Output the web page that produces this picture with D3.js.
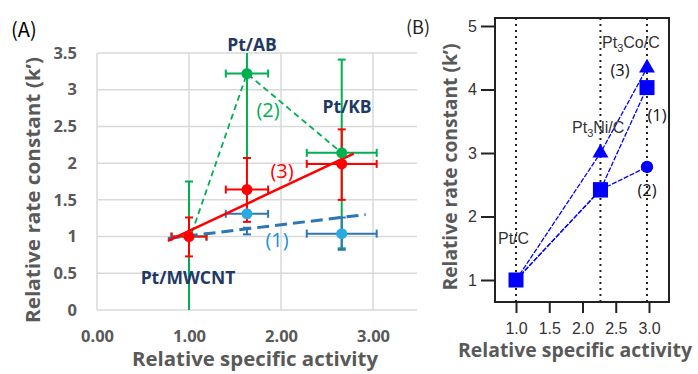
<!DOCTYPE html>
<html><head><meta charset="utf-8">
<script src="https://cdn.jsdelivr.net/npm/d3@7"></script>
<style>body{margin:0;background:#fff}svg{display:block}</style>
</head><body>
<svg id="c" width="698" height="374"></svg>
<script>
// ---------- Panel A data ----------
const catsA = ["Pt/MWCNT", "Pt/AB", "Pt/KB"];
const xA_vals = [1.00, 1.63, 2.66];
const xErrA = [0.19, 0.23, 0.38];
const greenY = [1.00, 3.22, 2.14];
const greenErrUp = [0.75, 1.15, 1.27];
const greenErrDown = [1.00, 1.15, 1.30];
const redY = [1.00, 1.64, 1.99];
const redErrUp = [0.26, 0.43, 0.47];
const redErrDown = [0.27, 0.44, 0.49];
const blueY = [1.00, 1.31, 1.04];
const blueBarLo = [null, 1.03, 0.82];
const blueBarHi = [null, 1.12, 1.26];
const redFit = [[0.77, 0.94], [2.79, 2.13]];
const blueFit = [[0.77, 0.975], [2.92, 1.30]];
const xTicksA = [0, 1, 2, 3];
const yTicksA = [0, 0.5, 1, 1.5, 2, 2.5, 3, 3.5];

// ---------- Panel B data ----------
const catsB = ["Pt/C", "Pt3Ni/C", "Pt3Co/C"];
const xB_vals = [1.0, 2.27, 2.97];
const s1 = [1.0, 2.42, 4.03];   // squares (1)
const s2 = [1.0, 2.42, 2.78];   // circles (2)
const s3 = [1.0, 3.00, 4.34];   // triangles (3)
const xTicksB = [1.0, 1.5, 2.0, 2.5, 3.0];
const yTicksB = [1, 2, 3, 4, 5];

const svg = d3.select("#c");
const GRID = "#d9d9d9", AX = "#595959";
const GREEN = "#00b050", RED = "#ff0000", LBLUE = "#29abe2", DBLUE = "#2e75b6", NAVY = "#1f3864";
const FA = "'Open Sans', sans-serif";

// ================= Panel A =================
const xA = d3.scaleLinear().domain([0, 3.5]).range([97, 419]);
const yA = d3.scaleLinear().domain([0, 3.5]).range([310, 53]);
const gA = svg.append("g");
svg.append("defs").append("clipPath").attr("id", "clipA")
  .append("rect").attr("x", 90).attr("y", 53).attr("width", 340).attr("height", 257);

gA.selectAll(".hg").data(yTicksA).join("line")
  .attr("x1", xA(0)).attr("x2", 417).attr("y1", d => yA(d)).attr("y2", d => yA(d))
  .attr("stroke", GRID).attr("stroke-width", 1.5);
gA.selectAll(".vg").data(xTicksA).join("line")
  .attr("x1", d => xA(d)).attr("x2", d => xA(d)).attr("y1", yA(0)).attr("y2", yA(3.5))
  .attr("stroke", GRID).attr("stroke-width", 1.5);

const axYA = d3.axisLeft(yA).tickValues(yTicksA).tickSize(0).tickPadding(20).tickFormat(d3.format("~g"));
const gyA = gA.append("g").attr("transform", `translate(${xA(0)},0)`).call(axYA);
gyA.select(".domain").remove();
gyA.selectAll("text").attr("fill", AX).attr("font-family", FA).attr("font-weight", "bold").attr("font-size", 16.5);
const axXA = d3.axisBottom(xA).tickValues(xTicksA).tickSize(0).tickPadding(20).tickFormat(d3.format(".2f"));
const gxA = gA.append("g").attr("transform", `translate(0,${yA(0)})`).call(axXA);
gxA.select(".domain").remove();
gxA.selectAll("text").attr("fill", AX).attr("font-family", FA).attr("font-weight", "bold").attr("font-size", 16.5);

gA.append("text").attr("x", 255).attr("y", 366).attr("text-anchor", "middle")
  .attr("fill", AX).attr("font-family", FA).attr("font-weight", "bold").attr("font-size", 19.5)
  .attr("textLength", 246).attr("lengthAdjust", "spacingAndGlyphs")
  .text("Relative specific activity");
gA.append("text").attr("transform", "translate(40,190) rotate(-90)").attr("text-anchor", "middle")
  .attr("fill", AX).attr("font-family", FA).attr("font-weight", "bold").attr("font-size", 19.5)
  .attr("textLength", 266).attr("lengthAdjust", "spacingAndGlyphs")
  .text("Relative rate constant (k\u2019)");
gA.append("text").attr("x", 11).attr("y", 37).attr("fill", "#000")
  .attr("font-family", "'Noto Sans CJK JP', sans-serif").attr("font-size", 20).text("(A)");

const pA = gA.append("g").attr("clip-path", "url(#clipA)");
function errBars(g, ys, up, down, color, cap) {
  ys.forEach((y, i) => {
    const x = xA_vals[i];
    g.append("line").attr("x1", xA(x)).attr("x2", xA(x)).attr("y1", yA(y + up[i])).attr("y2", yA(y - down[i]))
      .attr("stroke", color).attr("stroke-width", 2);
    [y + up[i], y - down[i]].forEach(v => {
      if (v > 0 && v < 3.5) g.append("line").attr("x1", xA(x) - cap).attr("x2", xA(x) + cap)
        .attr("y1", yA(v)).attr("y2", yA(v)).attr("stroke", color).attr("stroke-width", 2);
    });
    g.append("line").attr("x1", xA(x - xErrA[i])).attr("x2", xA(x + xErrA[i])).attr("y1", yA(y)).attr("y2", yA(y))
      .attr("stroke", color).attr("stroke-width", 2);
    [x - xErrA[i], x + xErrA[i]].forEach(v => {
      g.append("line").attr("x1", xA(v)).attr("x2", xA(v)).attr("y1", yA(y) - cap).attr("y2", yA(y) + cap)
        .attr("stroke", color).attr("stroke-width", 2);
    });
  });
}
errBars(pA, greenY, greenErrUp, greenErrDown, GREEN, 4);
blueY.forEach((y, i) => {
  if (i === 0) return;
  const x = xA_vals[i];
  pA.append("line").attr("x1", xA(x - xErrA[i])).attr("x2", xA(x + xErrA[i])).attr("y1", yA(y)).attr("y2", yA(y))
    .attr("stroke", DBLUE).attr("stroke-width", 2);
  [x - xErrA[i], x + xErrA[i]].forEach(v => pA.append("line").attr("x1", xA(v)).attr("x2", xA(v))
    .attr("y1", yA(y) - 4).attr("y2", yA(y) + 4).attr("stroke", DBLUE).attr("stroke-width", 2));
  pA.append("line").attr("x1", xA(x)).attr("x2", xA(x)).attr("y1", yA(blueBarLo[i])).attr("y2", yA(blueBarHi[i]))
    .attr("stroke", DBLUE).attr("stroke-width", 2);
  [blueBarLo[i], blueBarHi[i]].forEach(v => pA.append("line").attr("x1", xA(x) - 4).attr("x2", xA(x) + 4)
    .attr("y1", yA(v)).attr("y2", yA(v)).attr("stroke", DBLUE).attr("stroke-width", 2));
});
errBars(pA, redY, redErrUp, redErrDown, RED, 4);

const lineA = d3.line().x(d => xA(d[0])).y(d => yA(d[1]));
pA.append("path").datum([[1.03, 1.05], [xA_vals[1], greenY[1]], [xA_vals[2], greenY[2]]]).attr("d", lineA)
  .attr("fill", "none").attr("stroke", GREEN).attr("stroke-width", 1.8).attr("stroke-dasharray", "6,4");
pA.append("path").datum(blueFit).attr("d", lineA)
  .attr("fill", "none").attr("stroke", DBLUE).attr("stroke-width", 3).attr("stroke-dasharray", "12,6");
pA.append("path").datum(redFit).attr("d", lineA)
  .attr("fill", "none").attr("stroke", RED).attr("stroke-width", 2.5);

pA.selectAll(".gp").data(greenY.slice(1)).join("circle")
  .attr("cx", (d, i) => xA(xA_vals[i + 1])).attr("cy", d => yA(d)).attr("r", 5.5).attr("fill", GREEN);
pA.selectAll(".bp").data(blueY.slice(1)).join("circle")
  .attr("cx", (d, i) => xA(xA_vals[i + 1])).attr("cy", d => yA(d)).attr("r", 5.5).attr("fill", LBLUE);
pA.selectAll(".rp").data(redY).join("circle")
  .attr("cx", (d, i) => xA(xA_vals[i])).attr("cy", d => yA(d)).attr("r", 5.5).attr("fill", RED);

const labA = [[catsA[1], 252, 51], [catsA[2], 347, 113], [catsA[0], 188, 284]];
labA.forEach(([t, x, y]) => gA.append("text").attr("x", x).attr("y", y).attr("text-anchor", "middle")
  .attr("fill", NAVY).attr("font-family", FA).attr("font-weight", "bold").attr("font-size", 17.5).text(t));
[["(2)", 268, 117, GREEN], ["(3)", 282, 178, RED], ["(1)", 277, 247, "#1f8fd6"]].forEach(([t, x, y, c]) =>
  gA.append("text").attr("x", x).attr("y", y).attr("text-anchor", "middle").attr("fill", c)
    .attr("font-family", "'Open Sans', sans-serif").attr("font-size", 20).text(t));

// ================= Panel B =================
const xB = d3.scaleLinear().domain([1.0, 3.0]).range([516, 649]);
const yB = d3.scaleLinear().domain([1, 5]).range([280, 26]);
const gB = svg.append("g");
const FB = "'Liberation Sans', Arial, sans-serif";
const L = 495, R = 669, T = 18, B = 302;

gB.selectAll(".dv").data(xB_vals).join("line")
  .attr("x1", d => xB(d)).attr("x2", d => xB(d)).attr("y1", T).attr("y2", B)
  .attr("stroke", "#222").attr("stroke-width", 2).attr("stroke-dasharray", "2,4");

gB.append("rect").attr("x", L).attr("y", T).attr("width", R - L).attr("height", B - T)
  .attr("fill", "none").attr("stroke", "#222").attr("stroke-width", 2);

const axYB = d3.axisLeft(yB).tickValues(yTicksB).tickSize(14).tickPadding(4).tickFormat(d3.format("d"));
const gyB = gB.append("g").attr("transform", `translate(${L},0)`).call(axYB);
gyB.select(".domain").remove();
gyB.selectAll("line").attr("stroke", "#222").attr("stroke-width", 2);
gyB.selectAll("text").attr("fill", "#333").attr("font-family", FB).attr("font-size", 16);
const axXB = d3.axisBottom(xB).tickValues(xTicksB).tickSize(11).tickPadding(10).tickFormat(d3.format(".1f"));
const gxB = gB.append("g").attr("transform", `translate(0,${B})`).call(axXB);
gxB.select(".domain").remove();
gxB.selectAll("line").attr("stroke", "#222").attr("stroke-width", 2);
gxB.selectAll("text").attr("fill", "#333").attr("font-family", FB).attr("font-size", 16);

gB.append("text").attr("x", 575).attr("y", 357).attr("text-anchor", "middle")
  .attr("fill", AX).attr("font-family", FA).attr("font-weight", "bold").attr("font-size", 19.5)
  .attr("textLength", 234).attr("lengthAdjust", "spacingAndGlyphs")
  .text("Relative specific activity");
gB.append("text").attr("transform", "translate(457,167) rotate(-90)").attr("text-anchor", "middle")
  .attr("fill", AX).attr("font-family", FA).attr("font-weight", "bold").attr("font-size", 19.5)
  .attr("textLength", 247).attr("lengthAdjust", "spacingAndGlyphs")
  .text("Relative rate constant (k\u2019)");
gB.append("text").attr("x", 406).attr("y", 34).attr("fill", "#222")
  .attr("font-family", "'Noto Sans CJK JP', sans-serif").attr("font-size", 18).text("(B)");

const lineB = d3.line().x((d, i) => xB(xB_vals[i])).y(d => yB(d));
const BLUE = "#0000ff";
[s1, s2, s3].forEach(s => gB.append("path").datum(s).attr("d", lineB).attr("fill", "none")
  .attr("stroke", BLUE).attr("stroke-width", 1.3).attr("stroke-dasharray", "5,1.5"));

gB.selectAll(".sq").data(s1).join("rect")
  .attr("x", (d, i) => xB(xB_vals[i]) - 7.5).attr("y", d => yB(d) - 7.5).attr("width", 15).attr("height", 15).attr("fill", BLUE);
gB.selectAll(".sq2").data(s2.slice(1)).join("path")
  .attr("d", (d, i) => i === 0
    ? `M${xB(xB_vals[1]) - 7.5},${yB(d) - 7.5}h15v15h-15z`
    : d3.symbol(d3.symbolCircle, 120)())
  .attr("transform", (d, i) => i === 0 ? null : `translate(${xB(xB_vals[2])},${yB(d)})`)
  .attr("fill", BLUE);
gB.selectAll(".tr").data(s3.slice(1)).join("path")
  .attr("d", d3.symbol(d3.symbolTriangle, 110)())
  .attr("transform", (d, i) => `translate(${xB(xB_vals[i + 1])},${yB(d)})`).attr("fill", BLUE);

function chem(g, x, y, parts) {
  const t = g.append("text").attr("x", x).attr("y", y)
    .attr("fill", "#333").attr("font-family", FB).attr("font-size", 16);
  parts.forEach(p => {
    if (p.sub) t.append("tspan").attr("font-size", 11).attr("dy", 4).text(p.t);
    else t.append("tspan").attr("dy", p.after ? -4 : 0).text(p.t);
  });
}
chem(gB, 602, 48, [{t: "Pt"}, {t: "3", sub: true}, {t: "Co/C", after: true}]);
chem(gB, 572, 133, [{t: "Pt"}, {t: "3", sub: true}, {t: "Ni/C", after: true}]);
chem(gB, 498, 244, [{t: catsB[0]}]);
[["(3)", 620, 76], ["(1)", 657, 121], ["(2)", 647, 196]].forEach(([t, x, y]) =>
  gB.append("text").attr("x", x).attr("y", y).attr("text-anchor", "middle").attr("fill", "#111")
    .attr("font-family", "'Open Sans', sans-serif").attr("font-size", 16.5).text(t));
</script>
</body></html>
